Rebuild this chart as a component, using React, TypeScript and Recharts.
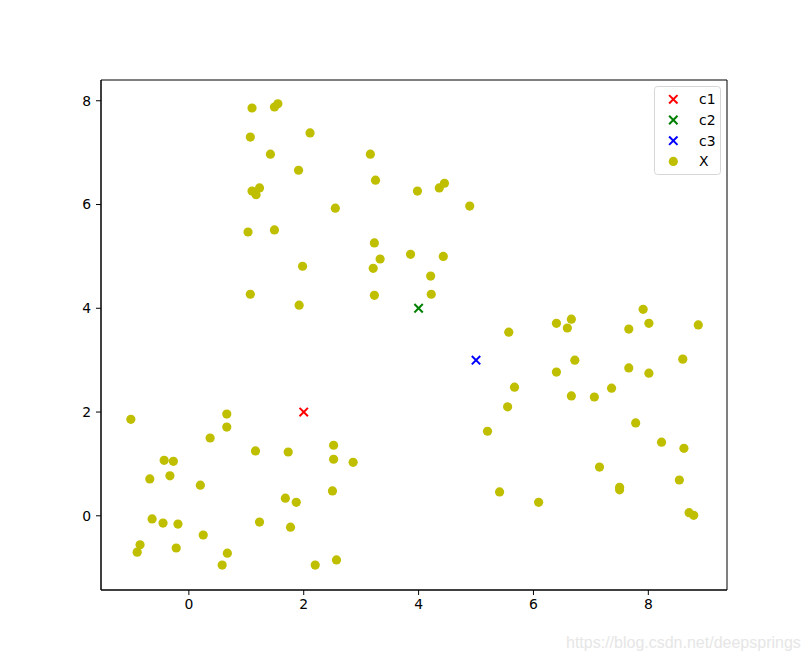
import React from "react";
import { ScatterChart, Scatter, XAxis, YAxis, ReferenceArea } from "recharts";

const xTicks = [0, 2, 4, 6, 8];
const yTicks = [0, 2, 4, 6, 8];
const xDomain: [number, number] = [-1.53, 9.37];
const yDomain: [number, number] = [-1.43, 8.4];

const c1 = [{ x: 2, y: 2 }];
const c2 = [{ x: 4, y: 4 }];
const c3 = [{ x: 5, y: 3 }];

// top cluster
const clusterA: [number, number][] = [
  [1.1, 7.86], [1.49, 7.88], [1.55, 7.94], [1.07, 7.3], [2.11, 7.38], [1.42, 6.97],
  [3.16, 6.97], [1.91, 6.66], [3.25, 6.47], [3.98, 6.26], [1.1, 6.26], [1.23, 6.32],
  [1.17, 6.19], [2.55, 5.93], [1.03, 5.47], [1.49, 5.51], [3.23, 5.26], [3.86, 5.04],
  [3.33, 4.95], [3.21, 4.77], [1.98, 4.81], [1.07, 4.27], [1.92, 4.06], [3.23, 4.25],
  [4.36, 6.32], [4.45, 6.41], [4.89, 5.97], [4.43, 5.0], [4.21, 4.62], [4.22, 4.27],
];
// right cluster
const clusterB: [number, number][] = [
  [5.57, 3.54], [6.4, 3.71], [6.66, 3.79], [6.59, 3.62], [7.91, 3.98], [8.01, 3.71],
  [7.66, 3.6], [8.87, 3.68], [6.72, 3.0], [6.4, 2.77], [7.66, 2.85], [8.01, 2.75],
  [8.6, 3.02], [5.67, 2.48], [6.66, 2.31], [7.06, 2.29], [7.36, 2.46], [5.55, 2.1],
  [5.2, 1.63], [7.78, 1.79], [8.23, 1.42], [8.62, 1.3], [7.15, 0.94], [8.54, 0.69],
  [7.5, 0.55], [7.5, 0.5], [5.41, 0.46], [6.09, 0.26], [8.71, 0.06], [8.79, 0.01],
];
// bottom-left cluster
const clusterC: [number, number][] = [
  [-1.01, 1.86], [0.66, 1.96], [0.66, 1.71], [0.37, 1.5], [1.16, 1.25], [1.73, 1.23],
  [2.52, 1.36], [2.52, 1.09], [2.86, 1.03], [-0.43, 1.07], [-0.27, 1.05], [-0.68, 0.71],
  [-0.33, 0.77], [0.2, 0.59], [1.68, 0.34], [1.87, 0.26], [2.5, 0.48], [-0.64, -0.06],
  [-0.45, -0.14], [-0.19, -0.16], [1.23, -0.12], [1.77, -0.22], [0.25, -0.37],
  [-0.85, -0.56], [-0.9, -0.7], [-0.22, -0.62], [0.67, -0.72], [0.58, -0.95],
  [2.2, -0.95], [2.57, -0.85],
];

const xPoints = [...clusterA, ...clusterB, ...clusterC].map(([x, y]) => ({ x, y }));

const POINT = "#bfbf00";
const FONT = "'DejaVu Sans', sans-serif";

const makeCross = (color: string) => (props: any) => {
  const { cx, cy } = props;
  const r = 4.2;
  return (
    <g>
      <line x1={cx - r} y1={cy - r} x2={cx + r} y2={cy + r} stroke={color} strokeWidth={2} />
      <line x1={cx - r} y1={cy + r} x2={cx + r} y2={cy - r} stroke={color} strokeWidth={2} />
    </g>
  );
};

const dot = (props: any) => <circle cx={props.cx} cy={props.cy} r={4.6} fill={POINT} />;

const legendItems = [
  { label: "c1", color: "#ff0000", kind: "x" },
  { label: "c2", color: "#008000", kind: "x" },
  { label: "c3", color: "#0000ff", kind: "x" },
  { label: "X", color: POINT, kind: "o" },
];

export default function App() {
  const tickStyle = { fill: "#000", fontSize: 13.9, fontFamily: FONT };
  return (
    <div style={{ position: "absolute", left: 0, top: 0, width: 808, height: 662, background: "#fff" }}>
      <ScatterChart width={808} height={662} margin={{ top: 80, right: 81, bottom: 0, left: 61 }}>
        <XAxis
          type="number"
          dataKey="x"
          domain={xDomain}
          ticks={xTicks}
          allowDataOverflow
          height={72}
          tickSize={5}
          tickMargin={4}
          tick={tickStyle}
          axisLine={{ stroke: "#000", strokeWidth: 1 }}
          tickLine={{ stroke: "#000" }}
        />
        <YAxis
          type="number"
          dataKey="y"
          domain={yDomain}
          ticks={yTicks}
          allowDataOverflow
          width={40}
          tickSize={5}
          tickMargin={5}
          tick={tickStyle}
          axisLine={{ stroke: "#000", strokeWidth: 1 }}
          tickLine={{ stroke: "#000" }}
        />
        <ReferenceArea
          x1={xDomain[0]}
          x2={xDomain[1]}
          y1={yDomain[0]}
          y2={yDomain[1]}
          fill="none"
          fillOpacity={0}
          stroke="#000"
          strokeWidth={1}
          ifOverflow="visible"
        />
        <Scatter name="X" data={xPoints} shape={dot} isAnimationActive={false} />
        <Scatter name="c1" data={c1} shape={makeCross("#ff0000")} isAnimationActive={false} />
        <Scatter name="c2" data={c2} shape={makeCross("#008000")} isAnimationActive={false} />
        <Scatter name="c3" data={c3} shape={makeCross("#0000ff")} isAnimationActive={false} />
      </ScatterChart>
      <svg
        width={68}
        height={90}
        style={{ position: "absolute", left: 654, top: 86 }}
      >
        <rect x={0.5} y={0.5} width={66} height={88} rx={3} fill="#fff" fillOpacity={0.8} stroke="#d6d6d6" />
        {legendItems.map((it, i) => {
          const cy = 13.3 + i * 20.7;
          const cx = 19.3;
          return (
            <g key={it.label}>
              {it.kind === "x" ? (
                <g>
                  <line x1={cx - 4.2} y1={cy - 4.2} x2={cx + 4.2} y2={cy + 4.2} stroke={it.color} strokeWidth={2} />
                  <line x1={cx - 4.2} y1={cy + 4.2} x2={cx + 4.2} y2={cy - 4.2} stroke={it.color} strokeWidth={2} />
                </g>
              ) : (
                <circle cx={cx} cy={cy} r={4.6} fill={it.color} />
              )}
              <text x={45} y={cy + 5} fontSize={13.9} fontFamily={FONT} fill="#000">
                {it.label}
              </text>
            </g>
          );
        })}
      </svg>
      <div
        style={{
          position: "absolute",
          left: 566,
          top: 634,
          fontFamily: "'Liberation Sans', Arial, sans-serif",
          fontSize: 16,
          color: "#e6e6e6",
          whiteSpace: "nowrap",
        }}
      >
        https://blog.csdn.net/deepsprings
      </div>
    </div>
  );
}
